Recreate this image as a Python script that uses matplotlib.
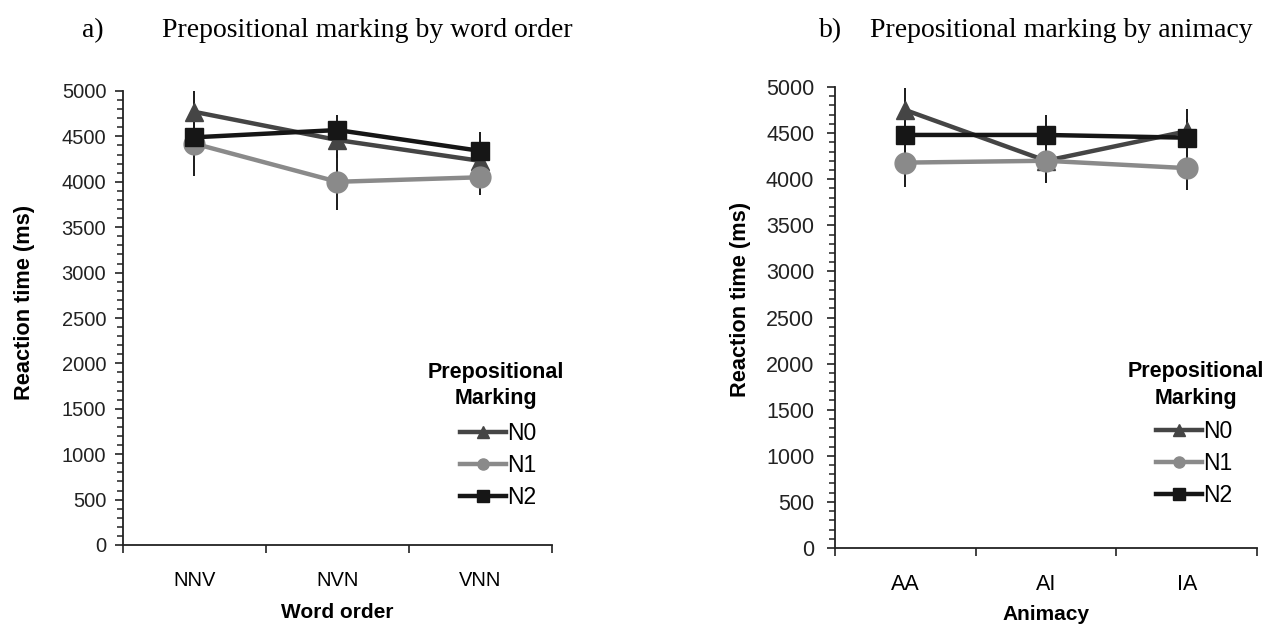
import matplotlib
matplotlib.use("Agg")
import matplotlib.pyplot as plt
from matplotlib.lines import Line2D
from matplotlib.ticker import MultipleLocator, FixedLocator, NullFormatter

plt.rcParams['font.family'] = ['Liberation Sans', 'DejaVu Sans']

# Panel a: word order
word_order = ["NNV", "NVN", "VNN"]
a_n0 = [4770, 4460, 4230]
a_n1 = [4420, 4000, 4050]
a_n2 = [4490, 4570, 4340]
a_n0_err = [230, 200, 200]
a_n1_err = [360, 310, 195]
a_n2_err = [200, 170, 210]

# Panel b: animacy
animacy = ["AA", "AI", "IA"]
b_n0 = [4750, 4200, 4520]
b_n1 = [4180, 4200, 4120]
b_n2 = [4480, 4480, 4450]
b_n0_err = [235, 230, 240]
b_n1_err = [260, 245, 240]
b_n2_err = [200, 215, 200]

series_names = ["N0", "N1", "N2"]
colors = ["#454545", "#8a8a8a", "#161616"]
markers = ["^", "o", "s"]
msizes = [13, 15, 13]

fig = plt.figure(figsize=(12.64, 6.25), dpi=100)

def draw_panel(rect, cats, vals, errs, xlabel, legend_xy, title_xy,
               tick_fs, ylabel_xy, ytick_pad, xtick_pad, xlabel_pad):
    ax = fig.add_axes(rect)
    x = list(range(len(cats)))
    # error bars first, drawn thin and black
    for v, e in zip(vals, errs):
        ax.errorbar(x, v, yerr=e, fmt='none', ecolor='#1a1a1a', elinewidth=1.4,
                    capsize=0, zorder=2)
    for v, c, m, ms in zip(vals, colors, markers, msizes):
        ax.plot(x, v, color=c, lw=3.2, marker=m, markersize=ms,
                markerfacecolor=c, markeredgecolor=c, zorder=3)
    ax.set_xlim(-0.5, len(cats) - 0.5)
    ax.set_ylim(0, 5000)
    ax.spines['top'].set_visible(False)
    ax.spines['right'].set_visible(False)
    for s in ('left', 'bottom'):
        ax.spines[s].set_linewidth(1.3)
        ax.spines[s].set_color('#222222')
    ax.yaxis.set_major_locator(MultipleLocator(500))
    ax.yaxis.set_minor_locator(MultipleLocator(100))
    ax.tick_params(axis='y', which='major', direction='out', length=6, width=1.2,
                   labelsize=tick_fs, pad=ytick_pad, colors='#222222')
    ax.tick_params(axis='y', which='minor', direction='out', length=4, width=1.1,
                   colors='#222222')
    # category boundaries carry the ticks, category centres carry the labels
    ax.xaxis.set_major_locator(FixedLocator([i - 0.5 for i in range(len(cats) + 1)]))
    ax.xaxis.set_major_formatter(NullFormatter())
    ax.xaxis.set_minor_locator(FixedLocator(x))
    ax.set_xticks(x, cats, minor=True)
    ax.tick_params(axis='x', which='major', direction='out', length=6, width=1.2,
                   colors='#222222')
    ax.tick_params(axis='x', which='minor', length=0, labelsize=tick_fs, pad=xtick_pad)
    ax.set_ylabel("Reaction time (ms)", fontsize=15.7, fontweight='bold')
    ax.yaxis.set_label_coords(*ylabel_xy)
    ax.set_xlabel(xlabel, fontsize=15, fontweight='bold', labelpad=xlabel_pad)

    tx, ty = title_xy
    ax.text(tx, ty, "Prepositional\nMarking", transform=ax.transAxes,
            ha='center', va='top', fontsize=15.5, fontweight='bold',
            linespacing=1.35)
    handles = [Line2D([], [], color=c, lw=3.2, marker=m, markersize=8,
                      markerfacecolor=c, markeredgecolor=c)
               for c, m in zip(colors, markers)]
    ax.legend(handles, series_names, loc='upper left', bbox_to_anchor=legend_xy,
              frameon=False, fontsize=16.5, handlelength=2.0, handletextpad=0.05,
              labelspacing=0.4, borderpad=0, borderaxespad=0)
    return ax

ax1 = draw_panel([0.0973, 0.128, 0.3394, 0.7264], word_order,
                 [a_n0, a_n1, a_n2], [a_n0_err, a_n1_err, a_n2_err],
                 "Word order", (0.785, 0.271), (0.87, 0.404),
                 14.5, (-0.205, 0.535), 6, 19, 9)
ax2 = draw_panel([0.6606, 0.1232, 0.3339, 0.7376], animacy,
                 [b_n0, b_n1, b_n2], [b_n0_err, b_n1_err, b_n2_err],
                 "Animacy", (0.76, 0.278), (0.855, 0.405),
                 15.5, (-0.2, 0.54), 9, 19, 7)

title_font = dict(family=['Liberation Serif', 'DejaVu Serif'], fontsize=20)
fig.text(0.065, 0.951, "a)", va='center', **title_font)
fig.text(0.128, 0.951, "Prepositional marking by word order", va='center', **title_font)
fig.text(0.648, 0.951, "b)", va='center', **title_font)
fig.text(0.688, 0.951, "Prepositional marking by animacy", va='center', **title_font)

fig.savefig("out.png", dpi=100)
